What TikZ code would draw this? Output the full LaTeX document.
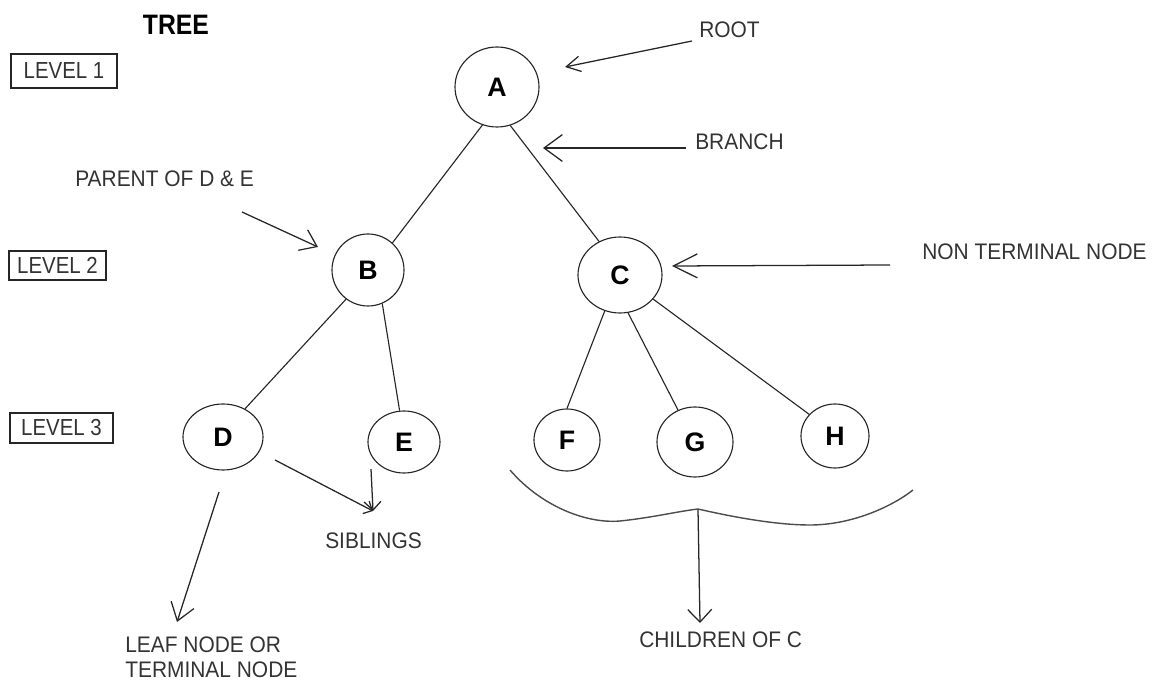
\documentclass[tikz,border=0pt]{standalone}
\usepackage{fontspec}
\setmainfont{Liberation Sans}
\newfontfamily\levelfont{Liberation Sans}[FakeStretch=0.88]
\newfontfamily\labelfont{Liberation Sans}[FakeStretch=0.93]
\newfontfamily\titlefont{Liberation Sans}[FakeStretch=0.88]
\usetikzlibrary{shapes.geometric,arrows.meta}

\begin{document}
\begin{tikzpicture}[x=0.025cm,y=-0.025cm,
  treenode/.style={draw=black!85, line width=0.8pt, ellipse, inner sep=0pt,
    font=\fontsize{19}{22}\selectfont\bfseries},
  edge/.style={draw=black!85, line width=0.8pt},
  pointer/.style n args={2}{draw=black!85, line width=0.9pt,
    -{Straight Barb[length=#1,width=#2,line width=0.9pt]}},
  label/.style={text=black!80, inner sep=0pt, anchor=west,
    font=\labelfont\fontsize{16}{19}\selectfont},
  levelbox/.style={draw=black!85, line width=0.8pt, inner sep=0pt,
    text=black!80, font=\levelfont\fontsize{16.5}{19}\selectfont}
]
\useasboundingbox (0,0) rectangle (1160,682);

% title and level markers
\node[inner sep=0pt, font=\titlefont\fontsize{20}{23}\selectfont\bfseries] (title) at (176,25) {TREE};
\node[levelbox, minimum width=106*0.025cm, minimum height=34*0.025cm] (lv1) at (64,71) {LEVEL 1};
\node[levelbox, minimum width=97*0.025cm, minimum height=29*0.025cm] (lv2) at (57.5,265.5) {LEVEL 2};
\node[levelbox, minimum width=103*0.025cm, minimum height=30*0.025cm] (lv3) at (61.5,428) {LEVEL 3};

% tree nodes
\node[treenode, minimum width=84*0.025cm, minimum height=80*0.025cm] (A) at (497,87) {A};
\node[treenode, minimum width=72*0.025cm, minimum height=72*0.025cm] (B) at (368,270) {B};
\node[treenode, minimum width=84*0.025cm, minimum height=76*0.025cm] (C) at (620,275) {C};
\node[treenode, minimum width=80*0.025cm, minimum height=66*0.025cm] (D) at (223,437) {D};
\node[treenode, minimum width=72*0.025cm, minimum height=62*0.025cm] (E) at (404,442) {E};
\node[treenode, minimum width=66*0.025cm, minimum height=62*0.025cm] (F) at (567,440) {F};
\node[treenode, minimum width=76*0.025cm, minimum height=70*0.025cm] (G) at (695,442) {G};
\node[treenode, minimum width=68*0.025cm, minimum height=64*0.025cm] (H) at (835,436) {H};

% branches
\draw[edge] (A.249) -- (B.48);
\draw[edge] (A.289) -- (C.122);
\draw[edge] (B.233) -- (D.52);
\draw[edge] (B.293) -- (E.98);
\draw[edge] (C.247) -- (F.90);
\draw[edge] (C.282) -- (G.118);
\draw[edge] (C.324) -- (H.140);

% labels
\node[label] (root) at (699,30) {ROOT};
\node[label] (branch) at (695,142) {BRANCH};
\node[label] (parent) at (75,179) {PARENT OF D \& E};
\node[label] (nonterm) at (922,252) {NON TERMINAL NODE};
\node[label] (siblings) at (325,541) {SIBLINGS};
\node[label, align=left, font=\labelfont\fontsize{16}{17.5}\selectfont] (leaf) at (125,657) {LEAF NODE OR\\TERMINAL NODE};
\node[label] (children) at (639,640) {CHILDREN OF C};

% pointer arrows
\coordinate (rootTail) at (692,41);
\coordinate (rootTip) at (565,67);
\coordinate (branchTail) at (686,148);
\coordinate (branchTip) at (543,148);
\coordinate (parentTail) at (242,212);
\coordinate (parentTip) at (318,247);
\coordinate (ntTail) at (890,265);
\coordinate (ntTip) at (672,266);
\coordinate (sibTailD) at (275,460);
\coordinate (sibTailE) at (371,469);
\coordinate (sibTip) at (373,511);
\coordinate (leafTail) at (219,492);
\coordinate (leafTip) at (177,622);
\coordinate (braceTip) at (698,509);
\coordinate (childTip) at (700,623);

\draw[pointer={10pt}{11pt}] (rootTail) -- (rootTip);
\draw[pointer={13pt}{19pt}] (branchTail) -- (branchTip);
\draw[pointer={11pt}{16pt}] (parentTail) -- (parentTip);
\draw[pointer={17pt}{17pt}] (ntTail) -- (ntTip);
\draw[pointer={5pt}{10pt}] (sibTailD) -- (sibTip);
\draw[pointer={6pt}{12pt}] (sibTailE) -- (sibTip);
\draw[pointer={12pt}{17pt}] (leafTail) -- (leafTip);
\draw[pointer={9pt}{17pt}] (braceTip) -- (childTip);

% brace grouping the children of C
\draw[draw=black!70, line width=1pt]
  (510,470) .. controls (540,505) and (585,524) .. (620,521)
  .. controls (650,518) and (680,511) .. (braceTip)
  .. controls (720,514) and (770,525) .. (810,525)
  .. controls (850,525) and (890,508) .. (913,490);
\end{tikzpicture}
\end{document}
